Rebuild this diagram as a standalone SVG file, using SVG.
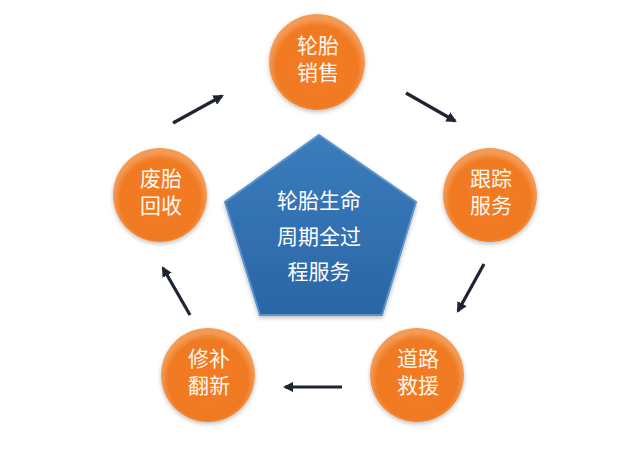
<svg xmlns="http://www.w3.org/2000/svg" width="640" height="453" viewBox="0 0 640 453">
<defs>
<style>
.ct{font-family:"Liberation Sans","Noto Sans CJK SC",sans-serif;font-size:21px;fill:#fff8ee;text-anchor:middle}
.pt{font-family:"Liberation Sans","Noto Sans CJK SC",sans-serif;font-size:21px;fill:#ffffff;text-anchor:middle}
.arr{stroke:#1f2433;stroke-width:3.2;fill:none;marker-end:url(#ah)}
</style>
<radialGradient id="og" cx="0.5" cy="0.55" r="0.5">
<stop offset="0" stop-color="#f27a1f"/>
<stop offset="0.85" stop-color="#f07a22"/>
<stop offset="1" stop-color="#f59a55"/>
</radialGradient>
<linearGradient id="bg" x1="0" y1="0" x2="0" y2="1">
<stop offset="0" stop-color="#3a7cbc"/>
<stop offset="1" stop-color="#2b66a6"/>
</linearGradient>
<filter id="sh" x="-20%" y="-20%" width="140%" height="140%">
<feDropShadow dx="0" dy="2" stdDeviation="2" flood-color="#000" flood-opacity="0.25"/>
</filter>
<marker id="ah" viewBox="0 0 10 10" refX="8" refY="5" markerWidth="3.3" markerHeight="3.3" orient="auto">
<path d="M0,0 L10,5 L0,10 Z" fill="#1f2433"/>
</marker>
</defs>
<rect width="640" height="453" fill="#ffffff"/>
<g id="center">
<polygon points="319,135 416,202 382,315 260,315 225,202" fill="url(#bg)" stroke="#5b93c9" stroke-width="2" filter="url(#sh)"/>
<text class="pt" x="319" y="208">轮胎生命<tspan x="319" y="244">周期全过</tspan><tspan x="319" y="279">程服务</tspan></text>
</g>
<g id="n1">
<circle cx="317" cy="62" r="48" fill="url(#og)" filter="url(#sh)"/>
<text class="ct" x="318" y="53">轮胎<tspan x="318" y="80">销售</tspan></text>
</g>
<g id="n2">
<circle cx="490" cy="195" r="47" fill="url(#og)" filter="url(#sh)"/>
<text class="ct" x="491" y="186">跟踪<tspan x="491" y="213">服务</tspan></text>
</g>
<g id="n3">
<circle cx="417" cy="375" r="47" fill="url(#og)" filter="url(#sh)"/>
<text class="ct" x="418" y="366">道路<tspan x="418" y="393">救援</tspan></text>
</g>
<g id="n4">
<circle cx="208" cy="375" r="47" fill="url(#og)" filter="url(#sh)"/>
<text class="ct" x="209" y="366">修补<tspan x="209" y="393">翻新</tspan></text>
</g>
<g id="n5">
<circle cx="160" cy="195" r="47" fill="url(#og)" filter="url(#sh)"/>
<text class="ct" x="161" y="186">废胎<tspan x="161" y="213">回收</tspan></text>
</g>
<g id="connectors">
<line class="arr" x1="406" y1="93" x2="455" y2="121"/>
<line class="arr" x1="484" y1="264" x2="458" y2="311"/>
<line class="arr" x1="342" y1="387" x2="285" y2="387"/>
<line class="arr" x1="190" y1="315" x2="163" y2="268"/>
<line class="arr" x1="173" y1="123" x2="222" y2="96"/>
</g>
</svg>
